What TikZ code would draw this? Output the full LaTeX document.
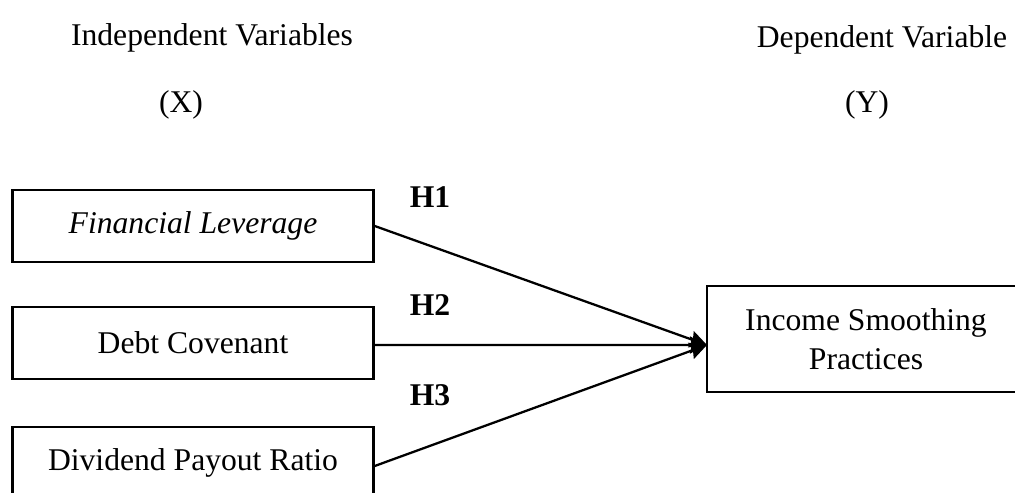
\documentclass[tikz,border=0pt]{standalone}
\usepackage{fontspec}
\setmainfont{Liberation Serif}
\usetikzlibrary{arrows.meta}

\begin{document}
\begin{tikzpicture}[x=0.02cm,y=-0.02cm,
		var/.style={rectangle,draw,line width=1.4pt,minimum width=361*0.02cm,minimum height=72*0.02cm,inner sep=0pt,font=\fontsize{18}{22}\selectfont},
		hyp/.style={font=\fontsize{18}{22}\selectfont\bfseries},
		ttl/.style={font=\fontsize{18}{22}\selectfont}]
			\useasboundingbox (0,0) rectangle (1015,493);
			\clip (0,0) rectangle (1015,493);
			\node [ttl] (indep) at (212,38) {Independent Variables};
			\node [ttl] (x) at (181,105) {(X)};
			\node [ttl] (dep) at (882,40) {Dependent Variable};
			\node [ttl] (y) at (867,105) {(Y)};
			\node [var] (fl) at (193,226) {\itshape Financial Leverage};
			\node [var] (dc) at (193,343) {Debt Covenant};
			\node [var] (dpr) at (193,463) {Dividend Payout Ratio};
			\node [var,minimum width=318*0.02cm,minimum height=106*0.02cm,align=center] (isp) at (866,339) {Income Smoothing\\Practices};
			\coordinate (tip) at (707,345);
			\node [hyp] (h1) at (430,197) {H1};
			\node [hyp] (h2) at (430,305) {H2};
			\node [hyp] (h3) at (430,395) {H3};
			\draw [-{Stealth[length=3.4mm,width=3.4mm,inset=0.4mm]}][black, line width=1.3pt] (fl.east) -- (tip);
			\draw [-{Stealth[length=3.4mm,width=3.4mm,inset=0.4mm]}][black, line width=1.3pt] ([yshift=-0.04cm]dc.east) -- (tip);
			\draw [-{Stealth[length=3.4mm,width=3.4mm,inset=0.4mm]}][black, line width=1.3pt] ([yshift=-0.06cm]dpr.east) -- (tip);
		\end{tikzpicture}
\end{document}
